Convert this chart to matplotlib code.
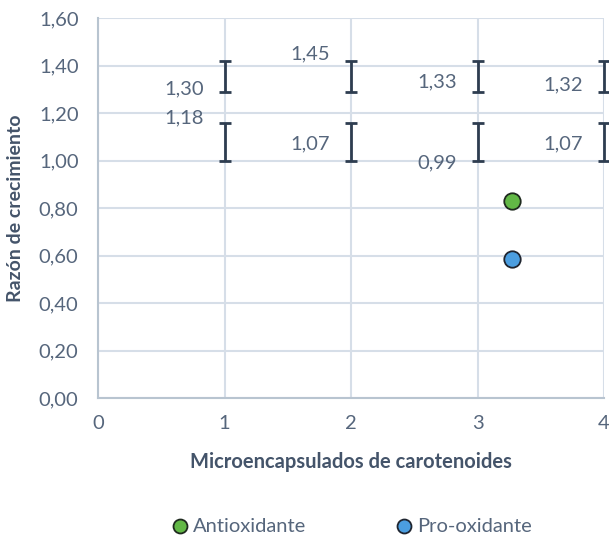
import numpy as np
import matplotlib.pyplot as plt

plt.rcParams['font.family'] = ['Lato', 'DejaVu Sans']

# series with hidden markers, only error bars and value labels are shown
x_pos = [1, 2, 3, 4]
upper_vals = [1.30, 1.45, 1.33, 1.32]
lower_vals = [1.18, 1.07, 0.99, 1.07]

# error bar ranges (same for every column)
upper_bar = (1.29, 1.42)
lower_bar = (1.00, 1.16)

# the two legend points
anti_x, anti_y = 3.27, 0.83
pro_x, pro_y = 3.27, 0.585

yticks = np.arange(0, 1.61, 0.2)
xticks = [0, 1, 2, 3, 4]

txt = '#56667c'
dark = '#44546a'
bar_col = '#2e3d50'
fs = 14.5

fig = plt.figure(figsize=(6.09, 5.38), dpi=100)
ax = fig.add_axes([0.161, 0.260, 0.831, 0.7065])

for lo, hi in (upper_bar, lower_bar):
    mid = (lo + hi) / 2
    half = (hi - lo) / 2
    ax.errorbar(x_pos, [mid] * 4, yerr=half, fmt='none', ecolor=bar_col,
                elinewidth=2, capsize=4.5, capthick=2, zorder=3, clip_on=False)

for xs, vals in ((x_pos, upper_vals), (x_pos, lower_vals)):
    for xv, v in zip(xs, vals):
        ax.annotate(f'{v:.2f}'.replace('.', ','), (xv, v), xytext=(-15, 0),
                    textcoords='offset points', ha='right', va='center',
                    fontsize=fs, color=txt)

ax.scatter([anti_x], [anti_y], s=140, color='#62b846', edgecolor='#1f2a1f',
           linewidth=1.3, zorder=4, label='Antioxidante')
ax.scatter([pro_x], [pro_y], s=140, color='#4b9ee0', edgecolor='#1f2530',
           linewidth=1.3, zorder=4, label='Pro-oxidante')

ax.set_xlim(0, 4)
ax.set_ylim(0, 1.6)
ax.set_xticks(xticks)
ax.set_yticks(yticks)
ax.set_yticklabels([f'{v:.2f}'.replace('.', ',') for v in yticks])
ax.tick_params(length=0, labelsize=fs, labelcolor=txt)
ax.tick_params(axis='x', pad=12)
ax.tick_params(axis='y', pad=14)
ax.grid(True, color='#d6dee8', linewidth=1.5)
ax.set_axisbelow(True)
for s in ('top', 'right'):
    ax.spines[s].set_visible(False)
for s in ('left', 'bottom'):
    ax.spines[s].set_color('#b8c4d0')
    ax.spines[s].set_linewidth(1.5)

ax.set_xlabel('Microencapsulados de carotenoides', fontsize=fs,
              fontweight='bold', color=dark, va='center')
ax.set_ylabel('Razón de crecimiento', fontsize=14, fontweight='bold',
              color=dark, va='center')
ax.xaxis.set_label_coords(0.5, -0.168)
ax.yaxis.set_label_coords(-0.164, 0.5)

fig.legend(loc='center', bbox_to_anchor=(0.573, 0.022), ncol=2,
           frameon=False, fontsize=fs, labelcolor=txt, handletextpad=0.0,
           handlelength=1.3, columnspacing=4.2, markerscale=0.85)

fig.savefig('out.png', dpi=100)
